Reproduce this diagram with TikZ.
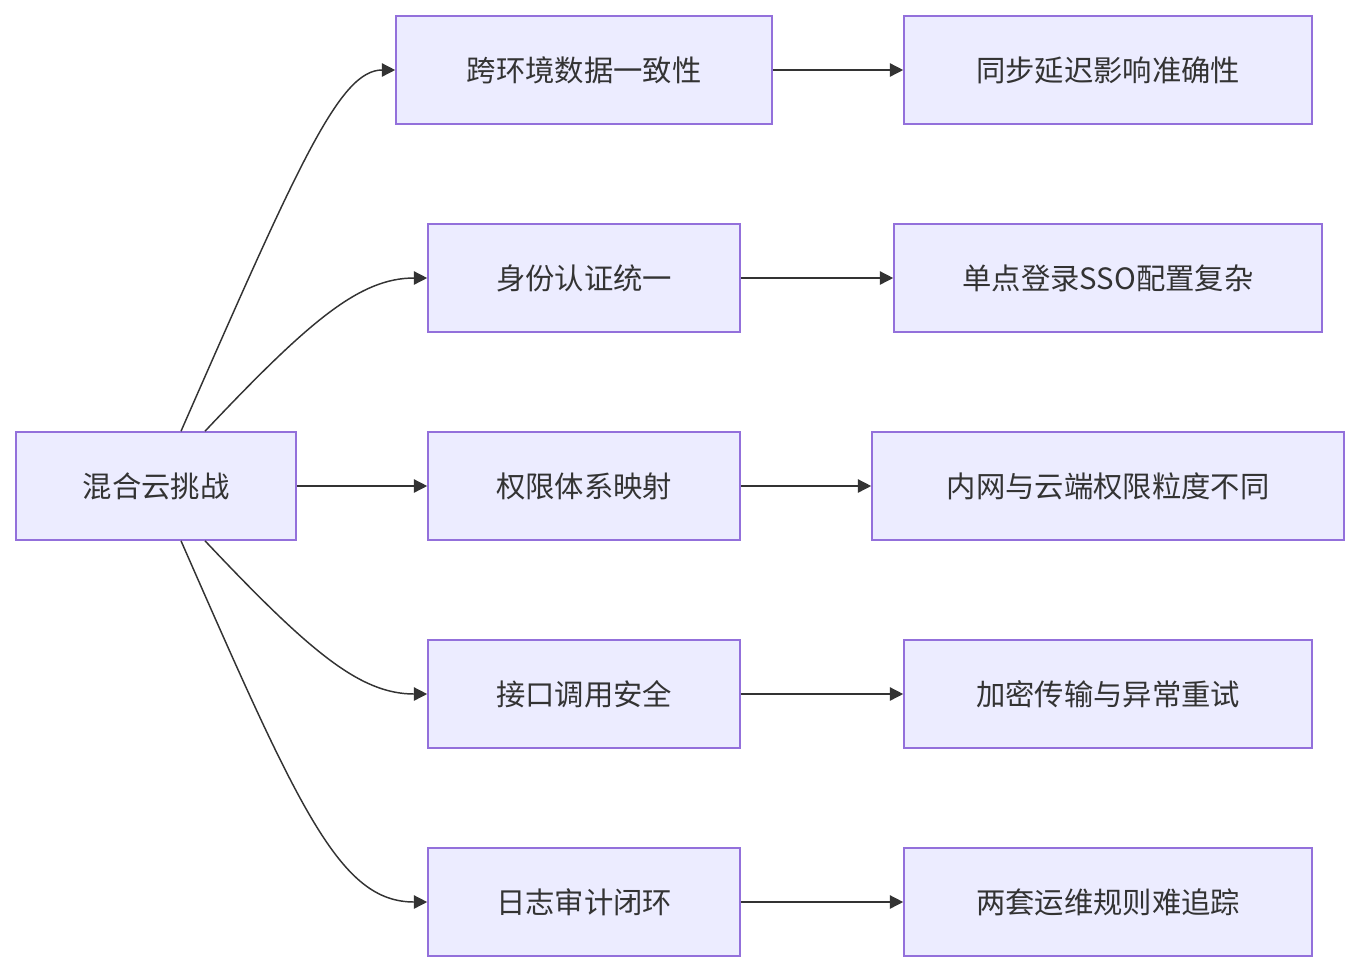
\documentclass[tikz,border=0pt]{standalone}
\usepackage{fontspec}
\setmainfont{Noto Sans CJK SC}
\usetikzlibrary{arrows.meta,calc}
\definecolor{nfill}{HTML}{ECECFF}
\definecolor{nline}{HTML}{9370DB}
\definecolor{eline}{HTML}{333333}
\tikzset{
 box/.style={draw=nline,fill=nfill,line width=1.2pt,inner sep=0pt,font=\fontsize{22}{26}\selectfont,text=eline},
 conn/.style={draw=eline,line width=1.1pt,-{Triangle[length=10pt,width=10pt]}}
}
\begin{document}
\begin{tikzpicture}[x=0.75pt,y=-0.75pt]
\useasboundingbox (0,0) rectangle (1360,972);
\newcommand{\bx}[6]{\node[box,minimum width=#4*0.75pt,minimum height=#5*0.75pt] (#1) at (#2,#3) {#6};}
\bx{A}{156}{486}{280}{108}{混合云挑战}
\bx{B1}{584}{70}{376}{108}{跨环境数据一致性}
\bx{B2}{584}{278}{312}{108}{身份认证统一}
\bx{B3}{584}{486}{312}{108}{权限体系映射}
\bx{B4}{584}{694}{312}{108}{接口调用安全}
\bx{B5}{584}{902}{312}{108}{日志审计闭环}
\bx{C1}{1108}{70}{408}{108}{同步延迟影响准确性}
\bx{C2}{1108}{278}{428}{108}{单点登录SSO配置复杂}
\bx{C3}{1108}{486}{472}{108}{内网与云端权限粒度不同}
\bx{C4}{1108}{694}{408}{108}{加密传输与异常重试}
\bx{C5}{1108}{902}{408}{108}{两套运维规则难追踪}
\coordinate (a1) at ($(A.north)+(25,0)$);
\coordinate (a2) at ($(A.north)+(49,0)$);
\coordinate (a4) at ($(A.south)+(49,0)$);
\coordinate (a5) at ($(A.south)+(25,0)$);
\draw[conn] (a1) .. controls (300,160) and (340,70) .. (B1.west);
\draw[conn] (a2) .. controls (310,320) and (360,278) .. (B2.west);
\draw[conn] (A.east) -- (B3.west);
\draw[conn] (a4) .. controls (310,652) and (360,694) .. (B4.west);
\draw[conn] (a5) .. controls (300,812) and (340,902) .. (B5.west);
\foreach \i in {1,...,5} {\draw[conn] (B\i.east) -- (C\i.west);}
\end{tikzpicture}
\end{document}
